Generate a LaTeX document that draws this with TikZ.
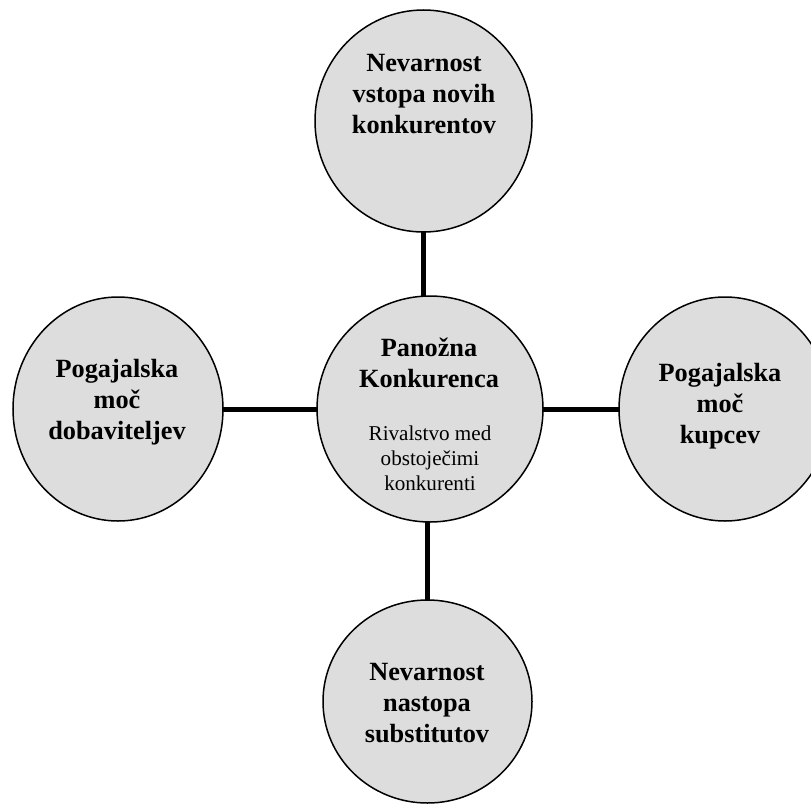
\documentclass[tikz,border=0pt]{standalone}
\usepackage{fontspec}
\setmainfont{Liberation Serif}
\usetikzlibrary{shapes.geometric}
\definecolor{ballfill}{HTML}{DDDDDD}
\tikzset{
  ball/.style={ellipse, draw=black, line width=1.5bp, fill=ballfill, inner sep=0pt, outer sep=0pt},
  link/.style={line width=5bp, draw=black},
  bigtxt/.style={align=center, font=\bfseries\fontsize{26.4}{31}\selectfont, inner sep=0pt},
  smalltxt/.style={align=center, font=\fontsize{21.2}{25}\selectfont, inner sep=0pt}
}
\begin{document}
\begin{tikzpicture}[x=1bp,y=-1bp]
\useasboundingbox (0,0) rectangle (811,805);
\node[ball, minimum width=217bp, minimum height=222bp] (top) at (423.5,121) {};
\node[ball, minimum width=210bp, minimum height=224bp] (left) at (118,409) {};
\node[ball, minimum width=226bp, minimum height=226bp] (mid) at (430,409) {};
\node[ball, minimum width=212bp, minimum height=224bp] (right) at (725,409) {};
\node[ball, minimum width=209bp, minimum height=203bp] (bot) at (427.5,701.5) {};
\draw[link] (top.south) -- (top.south |- mid.north);
\draw[link] (bot.north) -- (bot.north |- mid.south);
\draw[link] (left.east) -- (left.east -| mid.west);
\draw[link] (mid.east) -- (mid.east -| right.west);
\node[bigtxt] (ttop) at (424,94) {Nevarnost\\vstopa novih\\konkurentov};
\node[bigtxt] (tleft) at (117,402) {Pogajalska\\moč\\dobaviteljev};
\node[bigtxt] (tright) at (720,406) {Pogajalska\\moč\\kupcev};
\node[bigtxt] (tbot) at (427,703) {Nevarnost\\nastopa\\substitutov};
\node[bigtxt] (tmid) at (429,363) {Panožna\\Konkurenca};
\node[smalltxt] (tsub) at (430,458) {Rivalstvo med\\obstoječimi\\konkurenti};
\end{tikzpicture}
\end{document}
